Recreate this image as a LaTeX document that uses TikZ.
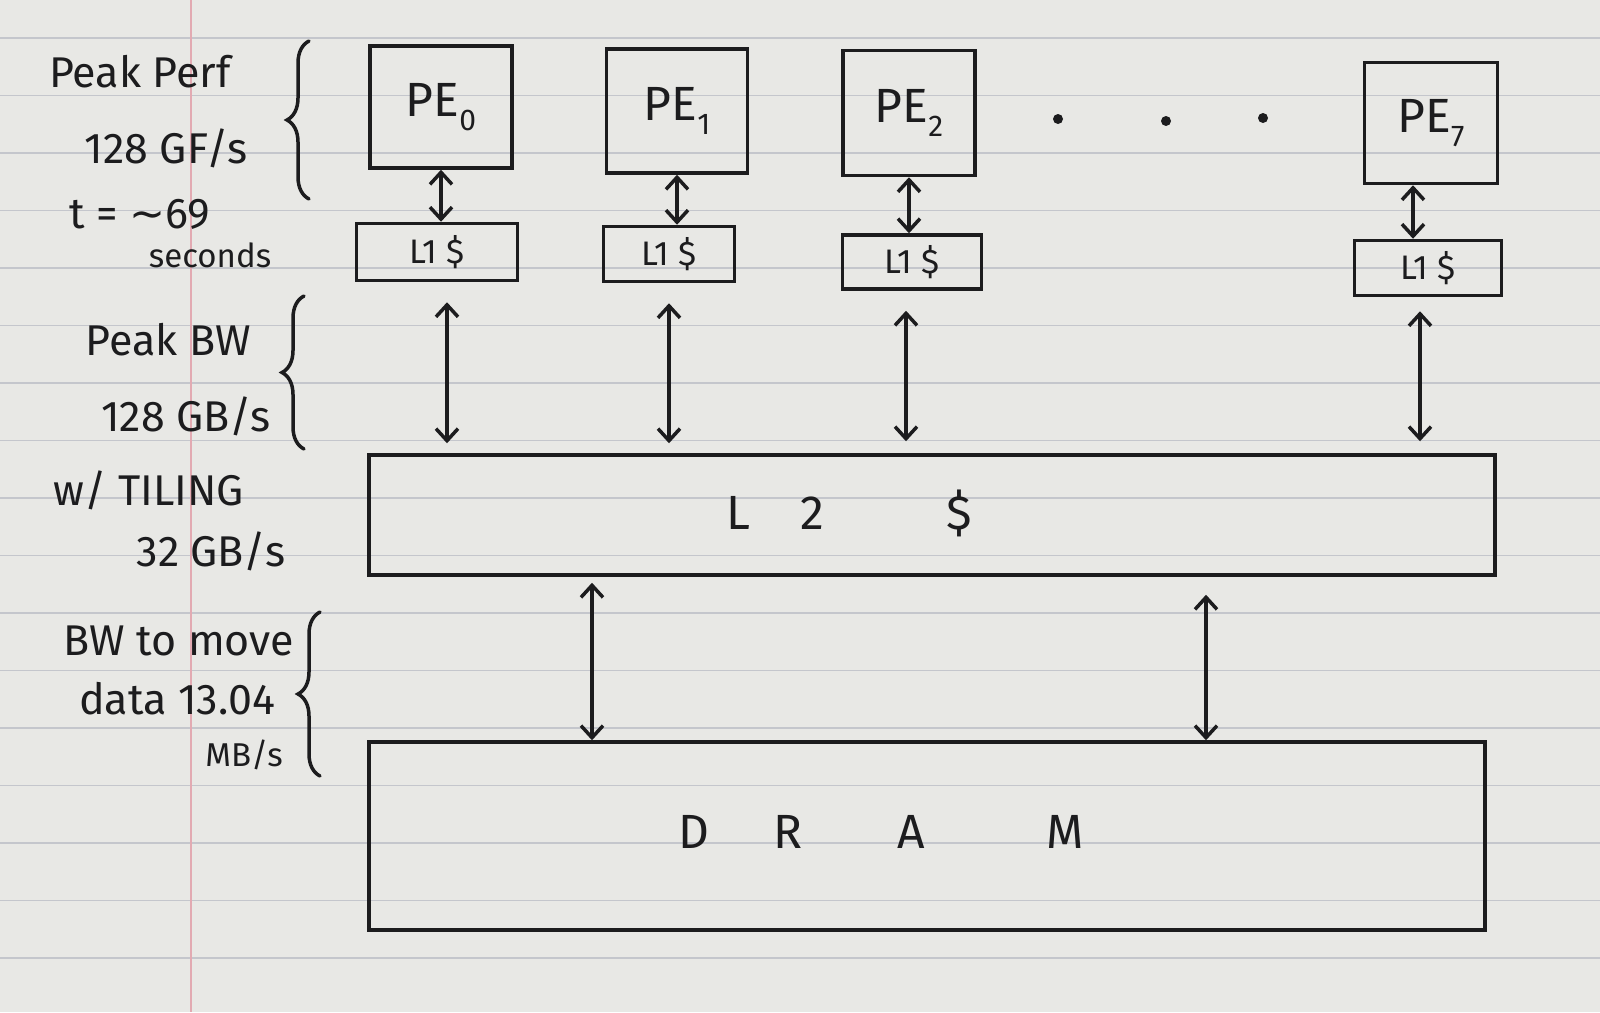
\documentclass[tikz,border=0pt]{standalone}
\usepackage{fontspec}
\setmainfont{Fira Sans}
\newfontfamily\symfont{DejaVu Sans}
\usetikzlibrary{arrows.meta,decorations.pathreplacing}
\definecolor{inkc}{RGB}{28,28,30}
\definecolor{paperc}{RGB}{232,232,229}
\definecolor{rulec}{RGB}{196,198,204}
\definecolor{marginc}{RGB}{226,170,178}
\begin{document}
\begin{tikzpicture}[x=1pt,y=-1pt,
  ink/.style={draw=inkc, line width=3.5pt},
  pebox/.style={ink, rectangle, inner sep=0pt, text=inkc, font=\fontsize{48}{48}\selectfont},
  lonebox/.style={ink, rectangle, inner sep=0pt, text=inkc, font=\fontsize{34}{34}\selectfont},
  bigbox/.style={ink, rectangle, inner sep=0pt},
  boxtext/.style={text=inkc, inner sep=0pt, font=\fontsize{48}{48}\selectfont},
  note/.style={text=inkc, inner sep=0pt, font=\fontsize{43}{43}\selectfont},
  smallnote/.style={text=inkc, inner sep=0pt, font=\fontsize{33}{33}\selectfont},
  biarrow/.style={ink, line cap=round, {Straight Barb[length=12pt,width=22pt]}-{Straight Barb[length=12pt,width=22pt]}},
  bracestyle/.style={ink, line cap=round, decorate, decoration={brace, amplitude=22pt}},
  dotmark/.style={fill=inkc, circle, inner sep=0pt, minimum size=10pt}
]
\newcommand\pelab[1]{PE\raisebox{-0.3em}{\fontsize{30}{30}\selectfont #1}}
\useasboundingbox (0,0) rectangle (1600,1012);
% paper
\fill[paperc] (0,0) rectangle (1600,1012);
\foreach \k in {0,...,16} \draw[rulec, line width=1.5pt] (0,38+57.5*\k) -- (1600,38+57.5*\k);
\draw[marginc, line width=1.5pt] (191,0) -- (191,1012);

% PEs
\node[pebox, minimum width=142pt, minimum height=122pt] (pe0) at (441,107) {\pelab{0}};
\node[pebox, minimum width=141pt, minimum height=124pt] (pe1) at (677,111) {\pelab{1}};
\node[pebox, minimum width=132pt, minimum height=125pt] (pe2) at (909,113) {\pelab{2}};
\node[pebox, minimum width=133pt, minimum height=121pt] (pe7) at (1431,123) {\pelab{7}};

\node[dotmark] (d1) at (1058,119) {};
\node[dotmark] (d2) at (1166,121) {};
\node[dotmark] (d3) at (1263,118) {};

% L1 caches
\node[lonebox, minimum width=161pt, minimum height=57pt] (l10) at (437,252) {L1 \$};
\node[lonebox, minimum width=131pt, minimum height=55pt] (l11) at (669,254) {L1 \$};
\node[lonebox, minimum width=139pt, minimum height=54pt] (l12) at (912,262) {L1 \$};
\node[lonebox, minimum width=147pt, minimum height=55pt] (l17) at (1428,268) {L1 \$};

% L2 and DRAM
\node[bigbox, minimum width=1126pt, minimum height=120pt] (l2) at (932,515) {};
\node[boxtext] (l2t) at (849,513) {L\hspace{50pt}2\hspace{122pt}\$};
\node[bigbox, minimum width=1116pt, minimum height=188pt] (dram) at (927,836) {};
\node[boxtext] (dramt) at (881,832) {D\hspace{64pt}R\hspace{95pt}A\hspace{122pt}M};

% PE <-> L1
\draw[biarrow] (pe0.south) -- (pe0.south |- l10.north);
\draw[biarrow] (pe1.south) -- (pe1.south |- l11.north);
\draw[biarrow] (pe2.south) -- (pe2.south |- l12.north);
\draw[biarrow] ([xshift=-18pt]pe7.south) -- ([xshift=-18pt]pe7.south |- l17.north);

% L1 <-> L2
\draw[biarrow, shorten <=20pt, shorten >=10pt] ([xshift=10pt]l10.south) -- ([xshift=10pt]l10.south |- l2.north);
\draw[biarrow, shorten <=20pt, shorten >=10pt] (l11.south) -- (l11.south |- l2.north);
\draw[biarrow, shorten <=20pt, shorten >=12pt] ([xshift=-6pt]l12.south) -- ([xshift=-6pt]l12.south |- l2.north);
\draw[biarrow, shorten <=14pt, shorten >=12pt] ([xshift=-8pt]l17.south) -- ([xshift=-8pt]l17.south |- l2.north);

% L2 <-> DRAM
\coordinate (a1) at (592,0);
\coordinate (a2) at (1206,0);
\draw[biarrow, shorten <=6pt] (a1 |- l2.south) -- (a1 |- dram.north);
\draw[biarrow, shorten <=18pt] (a2 |- l2.south) -- (a2 |- dram.north);

% left annotations
\node[note] (pp) at (140,72) {Peak Perf};
\node[note] (gf) at (166,148) {128 GF/s};
\node[note] (tv) at (140,214) {t = {\symfont ∼}69};
\node[smallnote] (sec) at (210,255) {seconds};
\draw[bracestyle] (309,199) -- (309,41);

\node[note] (pbw) at (168,340) {Peak BW};
\node[note] (gb) at (186,416) {128 GB/s};
\node[note] (til) at (149,490) {w/ TILING};
\node[note] (gb32) at (211,551) {32 GB/s};
\draw[bracestyle] (304,449) -- (304,296);

\node[note] (bwm) at (179,641) {BW to move};
\node[note] (dat) at (177,699) {data 13.04};
\node[smallnote] (mb) at (244,755) {MB/s};
\draw[bracestyle] (320,776) -- (320,612);
\end{tikzpicture}
\end{document}
